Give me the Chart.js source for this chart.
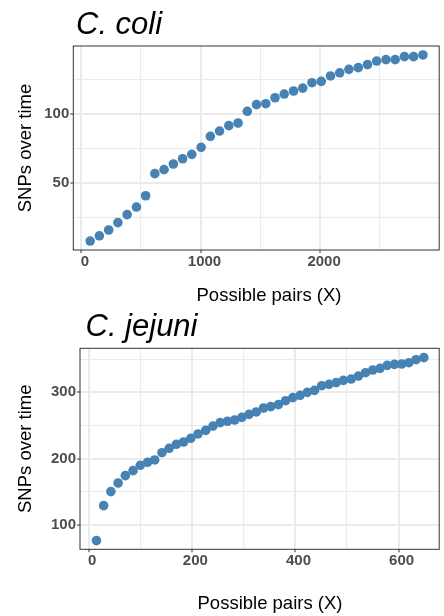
<!DOCTYPE html>
<html>
<head>
<meta charset="utf-8">
<script src="https://cdn.jsdelivr.net/npm/chart.js@4.4.1/dist/chart.umd.min.js"></script>
<style>
  html, body { margin: 0; padding: 0; background: #fff; }
  .panel { position: absolute; left: 0; width: 444px; height: 308px; }
  #coliBox { top: 0; }
  #jejuniBox { top: 308px; }
</style>
</head>
<body>
<div class="panel" id="coliBox"><canvas id="coliChart" width="444" height="308"></canvas></div>
<div class="panel" id="jejuniBox"><canvas id="jejuniChart" width="444" height="308"></canvas></div>
<script>
// C. coli: possible pairs vs SNPs over time
const coliPairs = [77, 154, 232, 309, 386, 464, 541, 618, 695, 773,
  850, 927, 1005, 1082, 1159, 1237, 1314, 1391, 1468, 1546,
  1623, 1700, 1778, 1855, 1932, 2010, 2087, 2164, 2241, 2319,
  2396, 2473, 2551, 2628, 2705, 2782, 2860];
const coliSnps = [8.2, 12.0, 16.2, 21.5, 27.3, 32.8, 41.0, 57.0, 59.9, 64.0,
  67.8, 71.0, 76.1, 84.0, 87.9, 91.8, 93.7, 102.2, 107.0, 107.7,
  112.0, 114.7, 116.9, 119.0, 122.9, 123.9, 127.8, 130.1, 132.6, 133.8,
  136.0, 138.6, 139.6, 139.6, 141.8, 141.8, 143.0];
const coliXMajor = [0, 1000, 2000];
const coliXMinor = [500, 1500, 2500];
const coliYMajor = [50, 100];
const coliYMinor = [25, 75, 125];

// C. jejuni
const jejuniPairs = [14, 28, 42, 56, 70, 85, 99, 113, 127, 141,
  155, 169, 183, 197, 211, 226, 240, 254, 268, 282,
  296, 310, 324, 338, 352, 367, 381, 395, 409, 423,
  437, 451, 465, 479, 493, 508, 522, 536, 550, 564,
  578, 592, 606, 620, 634, 649];
const jejuniSnps = [76.4, 129.1, 150.3, 163.3, 174.4, 181.9, 190.0, 194.5, 198.0, 209.0,
  215.6, 221.6, 225.1, 230.7, 237.2, 242.7, 249.2, 254.3, 256.3, 258.3,
  262.3, 266.8, 270.4, 276.4, 278.4, 281.4, 287.4, 292.0, 295.5, 300.0,
  303.0, 310.0, 312.0, 314.6, 318.0, 320.0, 324.6, 329.6, 333.7, 336.2,
  340.7, 342.2, 342.7, 344.7, 349.2, 352.3];
const jejuniXMajor = [0, 200, 400, 600];
const jejuniXMinor = [100, 300, 500];
const jejuniYMajor = [100, 200, 300];
const jejuniYMinor = [150, 250, 350];

const FONT = '"Liberation Sans", Arial, Helvetica, sans-serif';

// panel border, species title and x-axis title (ggplot theme_bw look)
const panelDecor = {
  id: 'panelDecor',
  afterDraw(chart, args, opts) {
    const { ctx, chartArea: a } = chart;
    ctx.save();
    ctx.strokeStyle = '#333333';
    ctx.lineWidth = 1;
    ctx.strokeRect(a.left, a.top, a.right - a.left, a.bottom - a.top);
    ctx.fillStyle = '#000';
    ctx.textBaseline = 'alphabetic';
    ctx.textAlign = 'left';
    ctx.font = 'italic 31px ' + FONT;
    ctx.fillText(opts.title, opts.titleX, opts.titleY);
    ctx.textAlign = 'center';
    ctx.font = '18.5px ' + FONT;
    ctx.fillText(opts.xTitle, opts.xTitleX, opts.xTitleY);
    ctx.restore();
  }
};

function makeScatter(canvasId, xs, ys, cfg) {
  const points = xs.map((x, i) => ({ x: x, y: ys[i] }));
  const isMajor = (list, c) => c.tick && list.includes(c.tick.value);
  const axisTicks = (major, minor) => scale => {
    scale.ticks = major.concat(minor).sort((a, b) => a - b).map(v => ({ value: v }));
  };
  const tickFont = { family: FONT, size: 15, weight: 'bold' };

  return new Chart(document.getElementById(canvasId), {
    type: 'scatter',
    data: {
      datasets: [{
        data: points,
        backgroundColor: '#4682B4',
        borderWidth: 0,
        pointRadius: 4.8,
        pointHoverRadius: 4.8
      }]
    },
    options: {
      responsive: false,
      animation: false,
      devicePixelRatio: 1,
      events: [],
      layout: { padding: { top: cfg.top, right: cfg.right, left: 0, bottom: 0 } },
      plugins: {
        legend: { display: false },
        tooltip: { enabled: false },
        panelDecor: {
          title: cfg.title, titleX: cfg.titleX, titleY: cfg.titleY,
          xTitle: 'Possible pairs (X)', xTitleX: cfg.xTitleX, xTitleY: 300.7
        }
      },
      scales: {
        x: {
          type: 'linear',
          min: cfg.xMin,
          max: cfg.xMax,
          afterBuildTicks: axisTicks(cfg.xMajor, cfg.xMinor),
          afterFit: s => { s.height = cfg.xHeight; },
          border: { display: false },
          grid: {
            color: '#ebebeb',
            lineWidth: c => isMajor(cfg.xMajor, c) ? 2 : 1.1,
            tickColor: c => isMajor(cfg.xMajor, c) ? '#333333' : 'rgba(0,0,0,0)',
            tickLength: 3,
            tickWidth: 1
          },
          ticks: {
            autoSkip: false,
            maxRotation: 0,
            padding: 0,
            labelOffset: cfg.labelOffset,
            color: '#4d4d4d',
            font: tickFont,
            callback: v => cfg.xMajor.includes(v) ? String(v) : ''
          }
        },
        y: {
          type: 'linear',
          min: cfg.yMin,
          max: cfg.yMax,
          afterBuildTicks: axisTicks(cfg.yMajor, cfg.yMinor),
          afterFit: s => { s.width = cfg.yWidth; },
          border: { display: false },
          grid: {
            color: '#ebebeb',
            lineWidth: c => isMajor(cfg.yMajor, c) ? 2 : 1.1,
            tickColor: c => isMajor(cfg.yMajor, c) ? '#333333' : 'rgba(0,0,0,0)',
            tickLength: 3,
            tickWidth: 1
          },
          ticks: {
            autoSkip: false,
            padding: 1,
            color: '#4d4d4d',
            font: tickFont,
            callback: v => cfg.yMajor.includes(v) ? String(v) : ''
          },
          title: {
            display: true,
            text: 'SNPs over time',
            color: '#000',
            font: { family: FONT, size: 18.5 },
            padding: { top: 15, bottom: 0 }
          }
        }
      }
    },
    plugins: [panelDecor]
  });
}

makeScatter('coliChart', coliPairs, coliSnps, {
  title: 'C. coli', titleX: 76, titleY: 34.3, xTitleX: 269,
  top: 46, right: 2.3, yWidth: 73.3, xHeight: 58, labelOffset: 4,
  xMin: -64, xMax: 2996, yMin: 1.7, yMax: 149.5,
  xMajor: coliXMajor, xMinor: coliXMinor, yMajor: coliYMajor, yMinor: coliYMinor
});

makeScatter('jejuniChart', jejuniPairs, jejuniSnps, {
  title: 'C. jejuni', titleX: 85.5, titleY: 28, xTitleX: 270,
  top: 40.3, right: 1.7, yWidth: 80, xHeight: 66.7, labelOffset: 3,
  xMin: -17.9, xMax: 678.8, yMin: 63.3, yMax: 366.4,
  xMajor: jejuniXMajor, xMinor: jejuniXMinor, yMajor: jejuniYMajor, yMinor: jejuniYMinor
});
</script>
</body>
</html>
